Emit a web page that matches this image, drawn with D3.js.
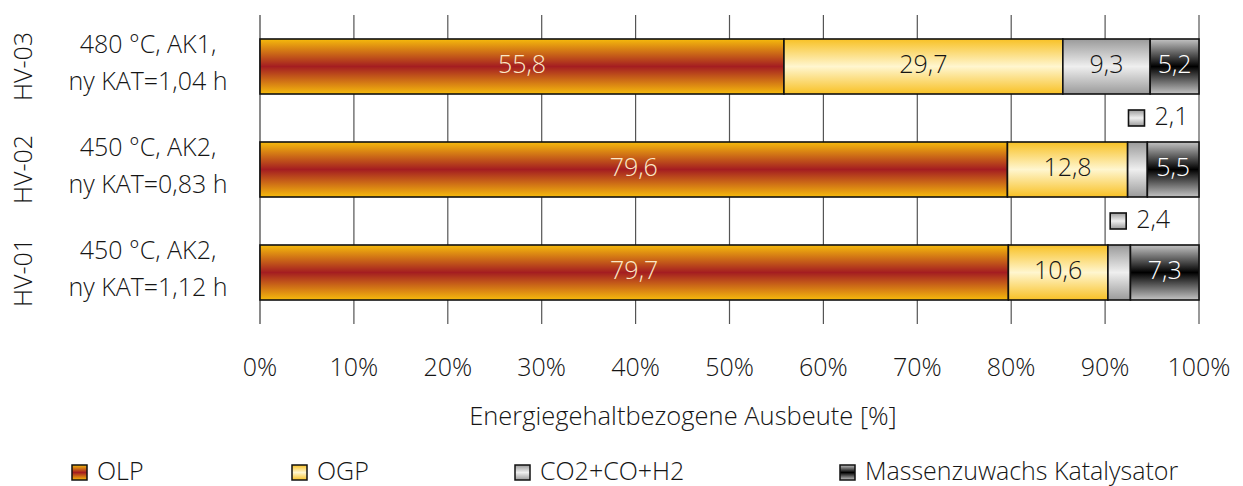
<!DOCTYPE html>
<html>
<head>
<meta charset="utf-8">
<script src="https://cdn.jsdelivr.net/npm/d3@7"></script>
<style>
  html, body { margin: 0; padding: 0; background: #fff; }
  svg { display: block; font-family: "Open Sans", "Noto Sans", sans-serif; font-weight: 300; }
</style>
</head>
<body>
<svg id="chart" width="1243" height="486"></svg>
<script>
// Runs, top to bottom
const runIds = ["HV-03", "HV-02", "HV-01"];
const runLine1 = ["480 °C, AK1,", "450 °C, AK2,", "450 °C, AK2,"];
const runLine2 = ["ny KAT=1,04 h", "ny KAT=0,83 h", "ny KAT=1,12 h"];

// Energy-based yield shares [%]
const seriesNames = ["OLP", "OGP", "CO2+CO+H2", "Massenzuwachs Katalysator"];
const olp = [55.8, 79.6, 79.7];
const ogp = [29.7, 12.8, 10.6];
const gas = [9.3, 2.1, 2.4];
const cat = [5.2, 5.5, 7.3];

const xTicks = [0, 10, 20, 30, 40, 50, 60, 70, 80, 90, 100];

const seriesValues = [olp, ogp, gas, cat];

const svg = d3.select("#chart");
const plot = { left: 260, right: 1199, top: 15, bottom: 324 };
const ink = "#151515";

const x = d3.scaleLinear().domain([0, 100]).range([plot.left, plot.right]);
const y = d3.scaleBand().domain(runIds).range([plot.top, plot.bottom])
  .paddingInner(0.466).paddingOuter(0.233);

// Vertical banded gradients for each series
const defs = svg.append("defs");
const gradStops = [
  ["#f6bb0c", "#a41d21"],   // OLP: gold edge, dark red core
  ["#f8c125", "#fff6cf"],   // OGP: gold edge, cream core
  ["#9a9a9a", "#efefef"],   // gas: grey edge, light core
  ["#c4c4c4", "#000000"]    // catalyst: light edge, black core
];
gradStops.forEach((c, i) => {
  const g = defs.append("linearGradient").attr("id", "g" + i)
    .attr("x1", 0).attr("y1", 0).attr("x2", 0).attr("y2", 1);
  g.append("stop").attr("offset", "0%").attr("stop-color", c[0]);
  g.append("stop").attr("offset", "50%").attr("stop-color", c[1]);
  g.append("stop").attr("offset", "100%").attr("stop-color", c[0]);
});

// Gridlines
svg.append("g").selectAll("line").data(xTicks).join("line")
  .attr("x1", d => x(d)).attr("x2", d => x(d))
  .attr("y1", plot.top).attr("y2", plot.bottom)
  .attr("stroke", d => d === 0 ? "#8a8a8a" : "#555")
  .attr("stroke-width", d => d === 0 ? 2 : 1.2);

// Stack the series per run
const rows = runIds.map((id, r) => {
  let acc = 0;
  return seriesValues.map((vals, s) => {
    const seg = { id, r, s, v: vals[r], x0: acc, x1: acc + vals[r] };
    acc += vals[r];
    return seg;
  });
}).flat();

const bars = svg.append("g");
bars.selectAll("rect").data(rows).join("rect")
  .attr("x", d => x(d.x0))
  .attr("width", d => x(d.x1) - x(d.x0))
  .attr("y", d => y(d.id))
  .attr("height", y.bandwidth())
  .attr("fill", d => `url(#g${d.s})`)
  .attr("stroke", "#111")
  .attr("stroke-width", 1.6);

const fmt = v => String(v).replace(".", ",");
const labelColor = ["#fbe9c8", ink, ink, "#fff"];

// Labels inside segments that are wide enough
bars.selectAll("text.in").data(rows.filter(d => d.v >= 5)).join("text")
  .attr("class", "in")
  .attr("x", d => x((d.x0 + d.x1) / 2))
  .attr("y", d => y(d.id) + y.bandwidth() / 2 + 6)
  .attr("text-anchor", "middle")
  .attr("font-size", 25)
  .attr("fill", d => labelColor[d.s])
  .text(d => fmt(d.v));

// Narrow segments: label with key square above the bar
const small = rows.filter(d => d.v < 5);
const sg = svg.append("g").selectAll("g").data(small).join("g")
  .attr("transform", d => `translate(${x((d.x0 + d.x1) / 2) - 9},${y(d.id) - 24})`);
sg.append("rect").attr("x", 0).attr("y", -8).attr("width", 16).attr("height", 16)
  .attr("fill", d => `url(#g${d.s})`).attr("stroke", "#111").attr("stroke-width", 1.6);
sg.append("text").attr("x", 26).attr("y", 7)
  .attr("font-size", 25).attr("fill", ink).text(d => fmt(d.v));

// Category labels
const cats = svg.append("g");
runIds.forEach((id, i) => {
  const top = y(id);
  cats.append("text").attr("x", 148).attr("y", top + 14)
    .attr("text-anchor", "middle").attr("font-size", 25).attr("fill", ink).text(runLine1[i]);
  cats.append("text").attr("x", 148).attr("y", top + 51)
    .attr("text-anchor", "middle").attr("font-size", 25).attr("fill", ink).text(runLine2[i]);
  cats.append("text").attr("transform", `translate(32,${top + y.bandwidth() / 2}) rotate(-90)`)
    .attr("text-anchor", "middle").attr("font-size", 25)
    .attr("fill", ink).text(id);
});

// X axis tick labels
svg.append("g").selectAll("text").data(xTicks).join("text")
  .attr("x", d => x(d)).attr("y", 376)
  .attr("text-anchor", "middle").attr("font-size", 25).attr("fill", ink)
  .text(d => d + "%");

svg.append("text").attr("x", 683).attr("y", 425)
  .attr("text-anchor", "middle").attr("font-size", 25.5).attr("fill", ink)
  .text("Energiegehaltbezogene Ausbeute [%]");

// Legend
const legendX = [72, 292, 515, 840];
const lg = svg.append("g").selectAll("g").data(seriesNames).join("g")
  .attr("transform", (d, i) => `translate(${legendX[i]},473)`);
lg.append("rect").attr("x", 0).attr("y", -8).attr("width", 15).attr("height", 15)
  .attr("fill", (d, i) => `url(#g${i})`).attr("stroke", "#111").attr("stroke-width", 1.5);
lg.append("text").attr("x", 25).attr("y", 7)
  .attr("font-size", 25).attr("fill", ink).text(d => d);
</script>
</body>
</html>
